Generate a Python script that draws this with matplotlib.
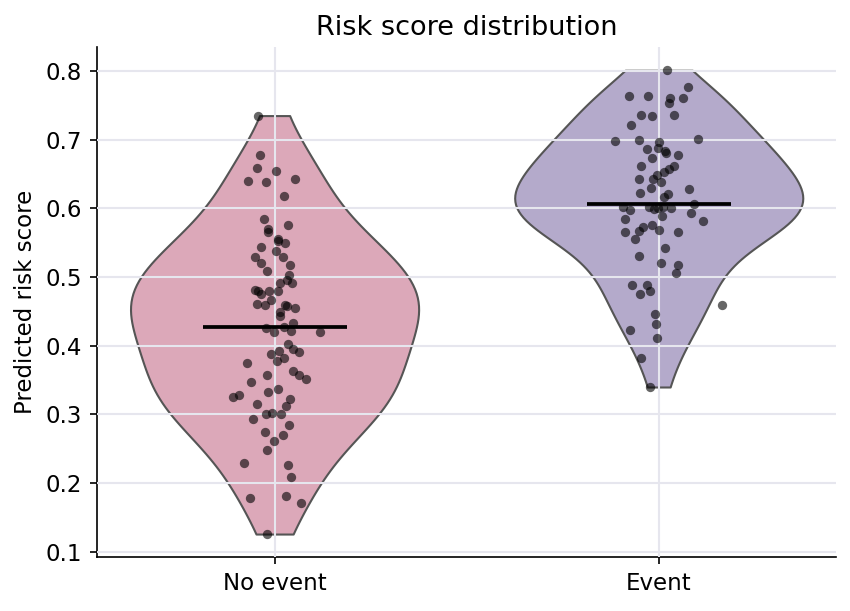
import numpy as np
import matplotlib
matplotlib.use("Agg")
import matplotlib.pyplot as plt

# groups
groups = ["No event", "Event"]
colors = ["#dca8b9", "#b4aacb"]

# predicted risk scores
no_event = [0.735, 0.678, 0.658, 0.654, 0.640, 0.638, 0.643, 0.618, 0.585, 0.576,
            0.570, 0.566, 0.555, 0.552, 0.550, 0.544, 0.538, 0.529, 0.529, 0.520,
            0.518, 0.509, 0.503, 0.495, 0.491, 0.492, 0.481, 0.479, 0.475, 0.479,
            0.479, 0.466, 0.461, 0.459, 0.459, 0.458, 0.455, 0.449, 0.444, 0.433,
            0.426, 0.428, 0.420, 0.422, 0.420, 0.402, 0.396, 0.391, 0.392, 0.388,
            0.378, 0.382, 0.375, 0.357, 0.364, 0.357, 0.351, 0.347, 0.337, 0.332,
            0.326, 0.328, 0.322, 0.315, 0.312, 0.300, 0.302, 0.300, 0.293, 0.284,
            0.274, 0.270, 0.262, 0.249, 0.229, 0.226, 0.209, 0.178, 0.181, 0.171,
            0.126]
event = [0.801, 0.776, 0.763, 0.763, 0.761, 0.760, 0.754, 0.736, 0.734, 0.736,
         0.722, 0.698, 0.700, 0.697, 0.701, 0.686, 0.688, 0.683, 0.680, 0.677,
         0.674, 0.661, 0.661, 0.657, 0.653, 0.648, 0.643, 0.643, 0.638, 0.629,
         0.628, 0.623, 0.621, 0.617, 0.607, 0.602, 0.597, 0.602, 0.599, 0.601,
         0.602, 0.601, 0.589, 0.593, 0.585, 0.581, 0.576, 0.573, 0.567, 0.565,
         0.569, 0.565, 0.556, 0.543, 0.530, 0.520, 0.518, 0.506, 0.488, 0.489,
         0.475, 0.479, 0.459, 0.446, 0.431, 0.423, 0.412, 0.382, 0.340]

# horizontal jitter of the dots (category units)
jit_no = [-0.044, -0.038, -0.046, 0.003, -0.070, -0.023, 0.053, 0.024, -0.028, 0.035,
          -0.018, -0.018, 0.009, 0.009, 0.028, -0.036, 0.003, -0.052, 0.022, -0.036,
          0.040, -0.020, 0.037, 0.032, 0.014, 0.045, -0.052, -0.044, -0.036, -0.015,
          0.009, -0.010, -0.046, -0.025, 0.027, 0.032, 0.053, 0.014, 0.014, 0.048,
          -0.023, 0.024, -0.002, 0.043, 0.119, 0.035, 0.048, 0.064, 0.011, -0.010,
          0.006, 0.024, -0.073, -0.020, 0.048, 0.064, 0.082, -0.062, 0.009, -0.018,
          -0.107, -0.093, 0.040, -0.046, 0.030, -0.023, -0.007, 0.016, -0.057, 0.037,
          -0.025, 0.022, -0.002, -0.020, -0.080, 0.035, 0.043, -0.065, 0.030, 0.069,
          -0.020]
jit_ev = [0.022, 0.077, -0.078, -0.028, 0.030, 0.064, 0.027, -0.046, -0.018, 0.040,
          -0.073, -0.114, -0.052, 0.001, 0.103, -0.031, -0.002, 0.016, 0.019, 0.051,
          -0.018, -0.046, 0.040, 0.027, 0.014, -0.004, -0.052, -0.015, 0.006, -0.020,
          0.079, -0.049, 0.024, 0.014, 0.092, -0.093, -0.075, -0.025, -0.012, -0.002,
          0.011, 0.032, 0.009, 0.085, -0.088, 0.116, -0.018, -0.041, -0.052, -0.088,
          0.001, 0.051, -0.062, 0.016, -0.052, 0.006, 0.051, 0.045, -0.070, -0.031,
          -0.049, -0.023, 0.166, -0.010, -0.007, -0.075, -0.004, -0.046, -0.023]

data = [no_event, event]
jitters = [jit_no, jit_ev]
pos = np.arange(len(groups))

plt.rcParams["font.size"] = 11

fig, ax = plt.subplots(figsize=(850 / 150, 611 / 150), dpi=150)

parts = ax.violinplot(data, positions=pos, widths=0.75,
                      showmeans=False, showmedians=False, showextrema=False)
for body, c in zip(parts["bodies"], colors):
    body.set_facecolor(c)
    body.set_edgecolor("#555555")
    body.set_linewidth(1)
    body.set_alpha(1)
    body.set_zorder(1)

# dots
for i, (vals, jit) in enumerate(zip(data, jitters)):
    ax.scatter(i + np.array(jit), vals, s=20, color="black", alpha=0.6,
               linewidths=0, zorder=3)

# median line
for i, vals in enumerate(data):
    ax.hlines(np.median(vals), i - 0.1875, i + 0.1875, color="black",
              lw=1.8, zorder=4)

ax.set_xticks(pos)
ax.set_xticklabels(groups)
ax.set_ylabel("Predicted risk score")
ax.set_title("Risk score distribution", fontsize=13)
ax.grid(True, color="#e6e6ee", lw=1, zorder=2)
ax.set_axisbelow(False)
for sp in ["top", "right"]:
    ax.spines[sp].set_visible(False)

plt.subplots_adjust(left=0.114, right=0.984, top=0.923, bottom=0.088)
plt.savefig("out.png", dpi=150)
plt.close()
